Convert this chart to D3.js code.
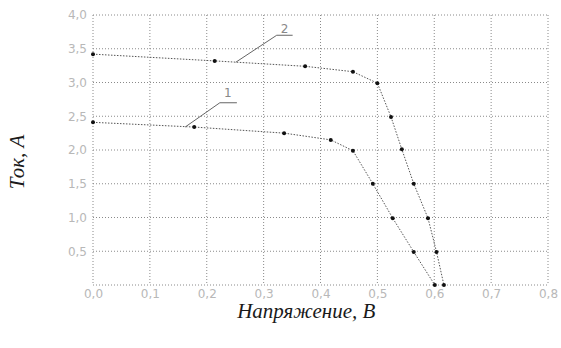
<!DOCTYPE html>
<html>
<head>
<meta charset="utf-8">
<script src="https://cdn.jsdelivr.net/npm/d3@7"></script>
<style>
  body { margin: 0; background: #fff; }
</style>
</head>
<body>
<div id="chart"></div>
<script>
// ВАХ, две кривые (1 и 2)
var xTicks = [0, 0.1, 0.2, 0.3, 0.4, 0.5, 0.6, 0.7, 0.8];
var xTickLabels = ["0,0", "0,1", "0,2", "0,3", "0,4", "0,5", "0,6", "0,7", "0,8"];
var yTicks = [0.5, 1, 1.5, 2, 2.5, 3, 3.5, 4];
var yTickLabels = ["0,5", "1,0", "1,5", "2,0", "2,5", "3,0", "3,5", "4,0"];

var volt1 = [0, 0.178, 0.336, 0.418, 0.457, 0.492, 0.527, 0.564, 0.601];
var curr1 = [2.41, 2.34, 2.25, 2.15, 1.99, 1.50, 0.99, 0.49, 0];

var volt2 = [0, 0.214, 0.373, 0.457, 0.50, 0.524, 0.543, 0.564, 0.589, 0.604, 0.617];
var curr2 = [3.42, 3.32, 3.24, 3.16, 2.99, 2.49, 2.01, 1.50, 0.99, 0.49, 0];

var curveNames = ["1", "2"];

var W = 561, H = 348;
var margin = { top: 15, right: 13, bottom: 63, left: 93 };
var width = W - margin.left - margin.right,
    height = H - margin.top - margin.bottom;

var svg = d3.select("#chart").append("svg")
  .attr("width", W)
  .attr("height", H);

var g = svg.append("g")
  .attr("transform", "translate(" + margin.left + "," + margin.top + ")");

var x = d3.scaleLinear().domain([0, 0.8]).range([0, width]);
var y = d3.scaleLinear().domain([0, 4]).range([height, 0]);

// сетка
g.selectAll(".vgrid")
  .data(xTicks)
  .enter().append("line")
  .attr("x1", function(d) { return x(d); })
  .attr("x2", function(d) { return x(d); })
  .attr("y1", 0)
  .attr("y2", height)
  .attr("stroke", "#8a8a8a")
  .attr("stroke-dasharray", "1,2");

g.selectAll(".hgrid")
  .data([0].concat(yTicks))
  .enter().append("line")
  .attr("x1", 0)
  .attr("x2", width)
  .attr("y1", function(d) { return y(d); })
  .attr("y2", function(d) { return y(d); })
  .attr("stroke", "#8a8a8a")
  .attr("stroke-dasharray", "1,2");

// оси
var xAxis = d3.axisBottom(x)
  .tickValues(xTicks)
  .tickSize(0)
  .tickPadding(4)
  .tickFormat(function(d, i) { return xTickLabels[i]; });

var yAxis = d3.axisLeft(y)
  .tickValues(yTicks)
  .tickSize(0)
  .tickPadding(6)
  .tickFormat(function(d, i) { return yTickLabels[i]; });

var gx = g.append("g")
  .attr("transform", "translate(0," + height + ")")
  .call(xAxis);
var gy = g.append("g").call(yAxis);

[gx, gy].forEach(function(a) {
  a.select(".domain").remove();
  a.selectAll("text")
    .attr("fill", "#b8b8b8")
    .style("font-family", "DejaVu Sans")
    .style("font-size", "12px");
});

// кривые
var line = d3.line()
  .x(function(d) { return x(d[0]); })
  .y(function(d) { return y(d[1]); });

var series = [d3.zip(volt1, curr1), d3.zip(volt2, curr2)];

series.forEach(function(pts) {
  g.append("path")
    .datum(pts)
    .attr("d", line)
    .attr("fill", "none")
    .attr("stroke", "#555")
    .attr("stroke-width", 1)
    .attr("stroke-dasharray", "1.5,1.5");

  g.selectAll(null)
    .data(pts)
    .enter().append("circle")
    .attr("cx", function(d) { return x(d[0]); })
    .attr("cy", function(d) { return y(d[1]); })
    .attr("r", 2)
    .attr("fill", "#111");
});

// выноски
var leaders = [
  [[0.162, 2.34], [0.223, 2.70], [0.253, 2.70]],
  [[0.251, 3.30], [0.323, 3.70], [0.351, 3.70]]
];
var leaderText = [[0.237, 2.78], [0.337, 3.74]];

leaders.forEach(function(pts, i) {
  g.append("path")
    .datum(pts)
    .attr("d", line)
    .attr("fill", "none")
    .attr("stroke", "#666")
    .attr("stroke-width", 1);

  g.append("text")
    .attr("x", x(leaderText[i][0]))
    .attr("y", y(leaderText[i][1]))
    .attr("text-anchor", "middle")
    .attr("fill", "#888")
    .style("font-family", "DejaVu Sans")
    .style("font-size", "12px")
    .text(curveNames[i]);
});

// подписи осей
svg.append("text")
  .attr("x", margin.left + x(0.375))
  .attr("y", 318)
  .attr("text-anchor", "middle")
  .attr("fill", "#1a1a1a")
  .style("font-family", "Liberation Serif")
  .style("font-style", "italic")
  .style("font-size", "21px")
  .text("Напряжение, В");

svg.append("text")
  .attr("transform", "translate(24,162) rotate(-90)")
  .attr("text-anchor", "middle")
  .attr("fill", "#1a1a1a")
  .style("font-family", "Liberation Serif")
  .style("font-style", "italic")
  .style("font-size", "21px")
  .text("Ток, А");
</script>
</body>
</html>
